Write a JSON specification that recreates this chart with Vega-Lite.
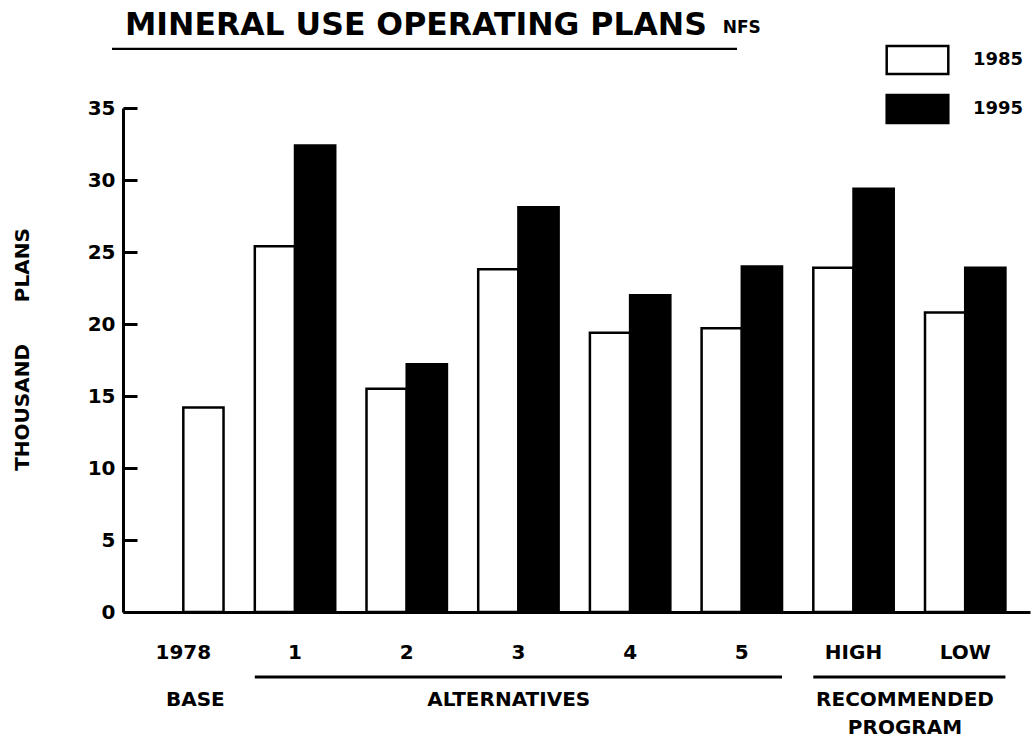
{
  "$schema": "https://vega.github.io/schema/vega-lite/v6.json",
  "width": 907,
  "height": 504,
  "autosize": {"type": "none"},
  "padding": {"left": 123, "top": 108, "right": 1, "bottom": 136},
  "background": "white",
  "config": {"view": {"stroke": null}, "font": "DejaVu Sans"},
  "title": {
    "text": "MINERAL USE OPERATING PLANS",
    "anchor": "start",
    "frame": "group",
    "font": "DejaVu Sans",
    "fontSize": 31.5,
    "fontWeight": "bold",
    "color": "black",
    "dx": 2,
    "offset": -22
  },
  "layer": [
    {
      "data": {
        "values": [
          {"cat": "1", "year": "1985", "value": 25.4},
          {"cat": "1", "year": "1995", "value": 32.4},
          {"cat": "2", "year": "1985", "value": 15.5},
          {"cat": "2", "year": "1995", "value": 17.2},
          {"cat": "3", "year": "1985", "value": 23.8},
          {"cat": "3", "year": "1995", "value": 28.1},
          {"cat": "4", "year": "1985", "value": 19.4},
          {"cat": "4", "year": "1995", "value": 22.0},
          {"cat": "5", "year": "1985", "value": 19.7},
          {"cat": "5", "year": "1995", "value": 24.0},
          {"cat": "HIGH", "year": "1985", "value": 23.9},
          {"cat": "HIGH", "year": "1995", "value": 29.4},
          {"cat": "LOW", "year": "1985", "value": 20.8},
          {"cat": "LOW", "year": "1995", "value": 23.9}
        ]
      },
      "mark": {"type": "bar", "stroke": "black", "strokeWidth": 2.5, "opacity": 1},
      "encoding": {
        "x": {
          "field": "cat",
          "type": "nominal",
          "scale": {
            "domain": ["1978", "1", "2", "3", "4", "5", "HIGH", "LOW"],
            "paddingInner": 0.28,
            "paddingOuter": 0.2,
            "align": 0.45
          },
          "axis": {
            "title": null,
            "labelAngle": 0,
            "domainWidth": 3,
            "domainColor": "black",
            "ticks": false,
            "labelPadding": 30,
            "labelFont": "DejaVu Sans",
            "labelFontSize": 20,
            "labelFontWeight": "bold",
            "labelColor": "black"
          }
        },
        "xOffset": {"field": "year", "type": "nominal", "scale": {"domain": ["1985", "1995"]}},
        "y": {
          "field": "value",
          "type": "quantitative",
          "scale": {"domain": [0, 35], "nice": false, "zero": true},
          "axis": {
            "title": "THOUSAND\u00a0\u00a0\u00a0\u00a0\u00a0\u00a0PLANS",
            "values": [0, 5, 10, 15, 20, 25, 30, 35],
            "grid": false,
            "domainWidth": 3,
            "domainColor": "black",
            "tickColor": "black",
            "tickWidth": 3,
            "tickSize": -14,
            "labelPadding": 22,
            "labelFont": "DejaVu Sans",
            "labelFontSize": 20,
            "labelFontWeight": "bold",
            "labelColor": "black",
            "titleFont": "DejaVu Sans",
            "titleFontSize": 20,
            "titleFontWeight": "bold",
            "titleColor": "black",
            "titlePadding": 55,
            "titleY": 241
          }
        },
        "color": {
          "field": "year",
          "type": "nominal",
          "scale": {"domain": ["1985", "1995"], "range": ["#ffffff", "#000000"]},
          "legend": {
            "title": null,
            "orient": "none",
            "legendX": 779,
            "legendY": -63.5,
            "padding": 0,
            "symbolType": "M-2.2,-1H2.2V1H-2.2Z",
            "symbolSize": 784,
            "symbolStrokeColor": "black",
            "symbolStrokeWidth": 2.5,
            "symbolOpacity": 1,
            "labelFont": "DejaVu Sans",
            "labelFontSize": 18,
            "labelFontWeight": "bold",
            "labelColor": "black",
            "labelOffset": 40,
            "rowPadding": 10
          }
        }
      }
    },
    {
      "data": {"values": [{"cat": "1978", "year": "1985", "value": 14.2}]},
      "mark": {"type": "bar", "stroke": "black", "strokeWidth": 2.5, "opacity": 1},
      "encoding": {
        "x": {"field": "cat", "type": "nominal"},
        "xOffset": {"datum": "1995"},
        "y": {"field": "value", "type": "quantitative"},
        "color": {"field": "year", "type": "nominal"}
      }
    },
    {
      "data": {"values": [{"t": "NFS"}]},
      "mark": {"type": "text", "font": "DejaVu Sans", "fontSize": 17, "fontWeight": "bold", "color": "black", "baseline": "alphabetic", "align": "center"},
      "encoding": {
        "x": {"datum": "5"},
        "y": {"datum": 40.2},
        "text": {"field": "t"}
      }
    },
    {
      "data": {"values": [{"t": "underline"}]},
      "mark": {"type": "rule", "color": "black", "strokeWidth": 2.2},
      "encoding": {
        "x": {"datum": "1978", "bandPosition": -0.387},
        "x2": {"datum": "5", "bandPosition": 0.44},
        "y": {"datum": 39.1}
      }
    },
    {
      "data": {"values": [{"group": "ALTERNATIVES"}]},
      "mark": {"type": "rule", "color": "black", "strokeWidth": 3},
      "encoding": {
        "x": {"datum": "1", "bandPosition": 0},
        "x2": {"datum": "5", "bandPosition": 1},
        "y": {"datum": -4.51}
      }
    },
    {
      "data": {"values": [{"group": "RECOMMENDED PROGRAM"}]},
      "mark": {"type": "rule", "color": "black", "strokeWidth": 3},
      "encoding": {
        "x": {"datum": "HIGH", "bandPosition": 0},
        "x2": {"datum": "LOW", "bandPosition": 1},
        "y": {"datum": -4.51}
      }
    },
    {
      "data": {"values": [{"t": "BASE"}]},
      "mark": {"type": "text", "font": "DejaVu Sans", "fontSize": 20, "fontWeight": "bold", "color": "black", "baseline": "middle", "align": "center"},
      "encoding": {"x": {"datum": "1978", "bandPosition": 0.65}, "y": {"datum": -6.11}, "text": {"field": "t"}}
    },
    {
      "data": {"values": [{"t": "ALTERNATIVES"}]},
      "mark": {"type": "text", "font": "DejaVu Sans", "fontSize": 20, "fontWeight": "bold", "color": "black", "baseline": "middle", "align": "center"},
      "encoding": {"x": {"datum": "3", "bandPosition": 0.38}, "y": {"datum": -6.11}, "text": {"field": "t"}}
    },
    {
      "data": {"values": [{"t": "RECOMMENDED"}]},
      "mark": {"type": "text", "font": "DejaVu Sans", "fontSize": 20, "fontWeight": "bold", "color": "black", "baseline": "middle", "align": "center"},
      "encoding": {"x": {"datum": "HIGH", "bandPosition": 1.14}, "y": {"datum": -6.11}, "text": {"field": "t"}}
    },
    {
      "data": {"values": [{"t": "PROGRAM"}]},
      "mark": {"type": "text", "font": "DejaVu Sans", "fontSize": 20, "fontWeight": "bold", "color": "black", "baseline": "middle", "align": "center"},
      "encoding": {"x": {"datum": "HIGH", "bandPosition": 1.14}, "y": {"datum": -8.06}, "text": {"field": "t"}}
    }
  ]
}
